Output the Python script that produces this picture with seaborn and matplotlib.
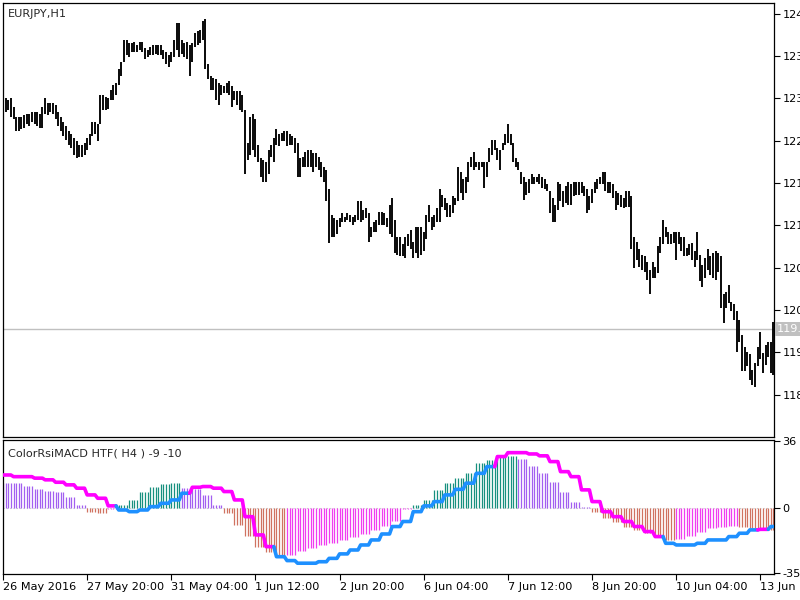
import numpy as np
import pandas as pd
import seaborn as sns
import matplotlib
matplotlib.use("Agg")
from matplotlib import pyplot as plt

# EURJPY H1 bars (high / low), 26 May 2016 12:00 -> 13 Jun 2016
high = [123.00, 123.00, 122.98, 123.00, 122.87, 122.74, 122.74, 122.73, 122.76, 122.77,
        122.78, 122.81, 122.80, 122.80, 122.78, 122.88, 123.01, 122.93, 122.94, 122.93,
        122.91, 122.81, 122.74, 122.66, 122.60, 122.54, 122.49, 122.44, 122.39, 122.34,
        122.34, 122.36, 122.44, 122.49, 122.67, 122.67, 122.64, 123.05, 123.05, 123.02,
        123.01, 123.12, 123.19, 123.22, 123.41, 123.52, 123.82, 123.83, 123.79, 123.79,
        123.80, 123.76, 123.80, 123.80, 123.71, 123.69, 123.73, 123.75, 123.76, 123.76,
        123.75, 123.69, 123.65, 123.61, 123.66, 123.82, 124.07, 124.07, 123.82, 123.79,
        123.80, 123.75, 123.79, 123.93, 123.95, 123.97, 124.10, 124.12, 123.48, 123.32,
        123.29, 123.27, 123.22, 123.19, 123.18, 123.22, 123.24, 123.18, 123.10, 123.11,
        123.10, 123.05, 122.84, 122.37, 122.73, 122.77, 122.70, 122.34, 122.16, 122.13,
        122.10, 122.27, 122.34, 122.44, 122.56, 122.49, 122.51, 122.54, 122.53, 122.49,
        122.46, 122.44, 122.37, 122.16, 122.17, 122.24, 122.27, 122.27, 122.23, 122.23,
        122.17, 122.09, 122.03, 121.99, 121.71, 121.35, 121.31, 121.28, 121.31, 121.38,
        121.32, 121.38, 121.35, 121.32, 121.35, 121.54, 121.54, 121.42, 121.45, 121.38,
        121.18, 121.24, 121.28, 121.39, 121.39, 121.38, 121.31, 121.49, 121.59, 121.28,
        121.04, 121.04, 120.93, 121.03, 121.07, 121.14, 120.97, 121.17, 121.18, 121.17,
        121.10, 121.35, 121.49, 121.32, 121.35, 121.45, 121.71, 121.63, 121.59, 121.52,
        121.49, 121.61, 121.59, 122.02, 121.95, 121.85, 121.89, 122.09, 122.17, 122.24,
        122.10, 122.10, 122.09, 122.10, 122.09, 122.30, 122.41, 122.41, 122.30, 122.27,
        122.37, 122.49, 122.63, 122.49, 122.37, 122.16, 122.09, 121.95, 121.89, 121.82,
        121.85, 121.92, 121.89, 121.89, 121.92, 121.88, 121.85, 121.78, 121.68, 121.59,
        121.49, 121.82, 121.78, 121.68, 121.75, 121.81, 121.78, 121.82, 121.81, 121.82,
        121.81, 121.75, 121.71, 121.61, 121.71, 121.82, 121.85, 121.89, 121.95, 121.96,
        121.82, 121.82, 121.78, 121.68, 121.66, 121.63, 121.59, 121.68, 121.68, 121.61,
        121.04, 120.97, 120.86, 120.78, 120.76, 120.68, 120.57, 120.68, 120.61, 120.90,
        121.03, 121.27, 121.18, 121.11, 121.07, 121.11, 121.10, 121.11, 121.03, 121.03,
        120.88, 120.93, 120.95, 120.83, 121.10, 120.78, 120.64, 120.74, 120.86, 120.76,
        120.81, 120.83, 120.81, 120.76, 120.22, 120.25, 120.36, 120.12, 120.08, 119.98,
        119.86, 119.65, 119.47, 119.41, 119.37, 119.15, 119.25, 119.48, 119.69, 119.39,
        119.51, 119.55, 119.54, 119.83]
low = [122.84, 122.81, 122.83, 122.73, 122.70, 122.53, 122.54, 122.56, 122.58, 122.64,
       122.61, 122.67, 122.64, 122.60, 122.58, 122.58, 122.78, 122.76, 122.80, 122.77,
       122.70, 122.60, 122.53, 122.46, 122.41, 122.34, 122.30, 122.20, 122.16, 122.17,
       122.17, 122.20, 122.27, 122.34, 122.46, 122.49, 122.40, 122.63, 122.84, 122.84,
       122.85, 122.97, 122.98, 123.05, 123.19, 123.31, 123.52, 123.62, 123.58, 123.66,
       123.65, 123.66, 123.68, 123.65, 123.56, 123.58, 123.61, 123.61, 123.63, 123.62,
       123.61, 123.55, 123.49, 123.45, 123.51, 123.58, 123.69, 123.59, 123.63, 123.58,
       123.55, 123.31, 123.51, 123.72, 123.75, 123.79, 123.83, 123.41, 123.27, 123.12,
       123.12, 122.98, 122.90, 123.05, 123.08, 123.08, 123.04, 122.87, 122.97, 122.91,
       122.84, 122.81, 121.92, 122.13, 122.20, 122.27, 122.17, 122.09, 121.88, 121.82,
       121.81, 121.92, 122.17, 122.10, 122.34, 122.32, 122.39, 122.39, 122.32, 122.34,
       122.34, 122.23, 121.89, 121.88, 122.02, 122.02, 122.03, 122.02, 121.95, 122.02,
       121.99, 121.89, 121.82, 121.54, 120.95, 121.03, 121.04, 121.07, 121.18, 121.25,
       121.24, 121.28, 121.25, 121.21, 121.24, 121.28, 121.25, 121.28, 121.31, 120.97,
       121.03, 121.10, 121.11, 121.21, 121.21, 121.21, 121.18, 121.07, 121.03, 120.81,
       120.78, 120.76, 120.76, 120.74, 120.90, 120.86, 120.74, 120.81, 120.74, 120.78,
       120.83, 121.00, 121.24, 121.14, 121.17, 121.25, 121.25, 121.46, 121.42, 121.32,
       121.32, 121.38, 121.49, 121.54, 121.66, 121.56, 121.66, 121.82, 122.02, 121.99,
       122.02, 121.99, 122.02, 121.73, 121.89, 122.09, 122.20, 122.27, 122.13, 121.99,
       122.27, 122.34, 122.37, 122.34, 122.09, 122.02, 121.99, 121.78, 121.56, 121.63,
       121.66, 121.78, 121.78, 121.81, 121.78, 121.73, 121.71, 121.68, 121.38, 121.24,
       121.24, 121.42, 121.54, 121.46, 121.52, 121.49, 121.49, 121.61, 121.63, 121.63,
       121.66, 121.61, 121.38, 121.42, 121.52, 121.66, 121.71, 121.78, 121.78, 121.68,
       121.66, 121.66, 121.59, 121.42, 121.49, 121.46, 121.45, 121.46, 121.46, 120.86,
       120.60, 120.71, 120.61, 120.57, 120.54, 120.43, 120.22, 120.46, 120.46, 120.53,
       120.81, 120.93, 121.04, 120.93, 120.93, 120.95, 120.71, 120.93, 120.83, 120.76,
       120.76, 120.78, 120.71, 120.61, 120.71, 120.41, 120.33, 120.46, 120.57, 120.50,
       120.46, 120.43, 120.54, 120.03, 119.82, 120.03, 120.10, 119.98, 119.86, 119.41,
       119.54, 119.13, 119.13, 119.20, 119.01, 118.94, 118.91, 119.20, 119.30, 119.11,
       119.22, 119.34, 119.11, 119.08]
last_price = 119.73

# ColorRsiMACD HTF(H4): one value per H4 block (4 H1 bars)
hist_h4 = [13.6, 13.2, 11.8, 10.0, 9.1, 8.8, 6.1, 1.6, -2.0, -2.9,
           -0.5, 1.6, 4.3, 8.8, 11.1, 12.9, 13.2, 10.6, 10.0, 7.0,
           1.6, -2.9, -9.1, -15.0, -20.8, -23.5, -25.8, -25.2, -22.9, -21.7,
           -19.9, -19.0, -17.2, -15.4, -14.0, -11.8, -9.7, -6.8, -0.5, 1.6,
           4.3, 9.4, 13.3, 16.0, 19.0, 24.0, 25.8, 27.6, 28.0, 26.2,
           22.6, 18.6, 14.2, 8.8, 3.4, 0.4, -2.0, -5.6, -7.3, -10.0,
           -11.8, -13.6, -15.4, -17.2, -16.8, -15.0, -12.7, -10.9, -10.0, -9.8,
           -10.3, -10.9, -11.5, -11.8]
sig_h4 = [17.7, 16.8, 16.8, 16.0, 15.1, 13.8, 12.4, 10.6, 7.0, 5.2,
          1.1, -1.1, -2.0, -1.1, 0.7, 2.5, 4.3, 7.9, 11.1, 11.5,
          10.6, 8.8, 4.3, -4.7, -14.5, -20.8, -26.2, -28.3, -29.7, -29.7,
          -28.9, -27.1, -24.7, -22.6, -19.9, -17.2, -14.0, -10.0, -7.3, -2.0,
          1.1, 3.4, 7.0, 10.0, 13.3, 18.6, 22.2, 27.6, 29.7, 29.7,
          29.0, 28.0, 24.9, 19.5, 16.8, 9.7, 3.4, -2.0, -4.7, -7.3,
          -10.0, -12.7, -15.4, -19.0, -19.9, -19.9, -19.0, -17.2, -17.2, -15.4,
          -13.6, -11.8, -11.5, -10.0]
# colour index buffers: hist 0=up+ 1=down+ 2=down- 3=up-, line 0=above 1=below
hist_clr = [1, 1, 1, 1, 1, 1, 1, 1, 2, 2,
            3, 0, 0, 0, 0, 0, 0, 1, 1, 1,
            1, 2, 2, 2, 2, 2, 2, 3, 3, 3,
            3, 3, 3, 3, 3, 3, 3, 3, 3, 0,
            0, 0, 0, 0, 0, 0, 0, 0, 0, 1,
            1, 1, 1, 1, 1, 1, 2, 2, 2, 2,
            2, 2, 2, 2, 3, 3, 3, 3, 3, 3,
            2, 2, 2, 2]
line_clr = [0, 0, 0, 0, 0, 0, 0, 0, 0, 0,
            0, 1, 1, 1, 1, 1, 1, 1, 0, 0,
            0, 0, 0, 0, 0, 0, 1, 1, 1, 1,
            1, 1, 1, 1, 1, 1, 1, 1, 1, 1,
            1, 1, 1, 1, 1, 1, 1, 0, 0, 0,
            0, 0, 0, 0, 0, 0, 0, 0, 0, 0,
            0, 0, 0, 1, 1, 1, 1, 1, 1, 1,
            1, 1, 0, 1]

time_labels = ["26 May 2016", "27 May 20:00", "31 May 04:00", "1 Jun 12:00", "2 Jun 20:00",
               "6 Jun 04:00", "7 Jun 12:00", "8 Jun 20:00", "10 Jun 04:00", "13 Jun 12:00"]
price_ticks = [124.20, 123.60, 123.00, 122.40, 121.80, 121.20, 120.60, 120.00, 119.40, 118.80]

hist_pal = ["#17907f", "#a25ff0", "#d07260", "#f03cf0"]
line_pal = ["#ff00ff", "#1e90ff"]

df = pd.DataFrame({"high": high, "low": low})
df["bar"] = np.arange(len(df))
df["blk"] = df["bar"] // 4
df["hist"] = [hist_h4[b] for b in df["blk"]]
df["sig"] = [sig_h4[b] for b in df["blk"]]
df["hclr"] = [hist_pal[hist_clr[b]] for b in df["blk"]]
df["lclr"] = [line_clr[b] for b in df["blk"]]

sns.set_theme(style="white")
plt.rcParams['font.family'] = ['DejaVu Sans']
fs = 8.1

fig = plt.figure(figsize=(8, 6), dpi=100)
ax1 = fig.add_axes([3 / 800, 163 / 600, 771 / 800, 434 / 600])
ax2 = fig.add_axes([3 / 800, 26 / 600, 771 / 800, 134 / 600])

# price pane
ax1.axhline(last_price, color="#c0c0c0", lw=1.0, zorder=1)
ax1.vlines(df["bar"], df["low"], df["high"], color="black", lw=1.35, zorder=2)
ax1.set_xlim(0, 293.2)
ax1.set_ylim(118.20, 124.35)
ax1.yaxis.tick_right()
ax1.set_yticks(price_ticks)
ax1.set_yticklabels(["%.2f" % p for p in price_ticks])
ax1.set_xticks([])
ax1.tick_params(axis="y", direction="out", length=4, width=0.8, pad=2,
                labelsize=fs, colors="black", right=True)
ax1.text(0.006, 0.975, "EURJPY,H1", transform=ax1.transAxes, fontsize=fs,
         va="center", ha="left")
ax1.text(1.004, last_price, "%.2f" % last_price, transform=ax1.get_yaxis_transform(),
         fontsize=fs, color="white", va="center", ha="left",
         bbox=dict(boxstyle="square,pad=0.15", fc="#c0c0c0", ec="none"))

# indicator pane
ax2.axhline(0, color="#c8c8c8", lw=0.8, ls=(0, (1, 2)), zorder=0)
ax2.vlines(df["bar"], 0, df["hist"], colors=df["hclr"], lw=0.9, zorder=1)

run_start = 0
for i in range(1, len(df) + 1):
    if i == len(df) or df["lclr"][i] != df["lclr"][run_start]:
        seg = df.iloc[max(run_start - 1, 0):i]
        sns.lineplot(x=seg["bar"].values, y=seg["sig"].values, ax=ax2,
                     color=line_pal[df["lclr"][run_start]], lw=2.6,
                     estimator=None, sort=False, zorder=3)
        run_start = i

ax2.set_xlim(0, 293.2)
ax2.set_ylim(-35.5, 36.5)
ax2.yaxis.tick_right()
ax2.set_yticks([36, 0, -35])
ax2.set_yticklabels(["36", "0", "-35"])
ax2.set_xticks(np.arange(0, 289, 32))
ax2.set_xticklabels(time_labels)
for lbl in ax2.get_xticklabels():
    lbl.set_ha("left")
ax2.tick_params(axis="both", direction="out", length=4, width=0.8, pad=2,
                labelsize=fs, colors="black", right=True, bottom=True)
ax2.text(0.006, 0.9, "ColorRsiMACD HTF( H4 ) -9 -10", transform=ax2.transAxes,
         fontsize=fs, va="center", ha="left")

for ax in (ax1, ax2):
    for s in ax.spines.values():
        s.set_color("black")
        s.set_linewidth(0.9)

fig.savefig("out.png", dpi=100, facecolor="white")
